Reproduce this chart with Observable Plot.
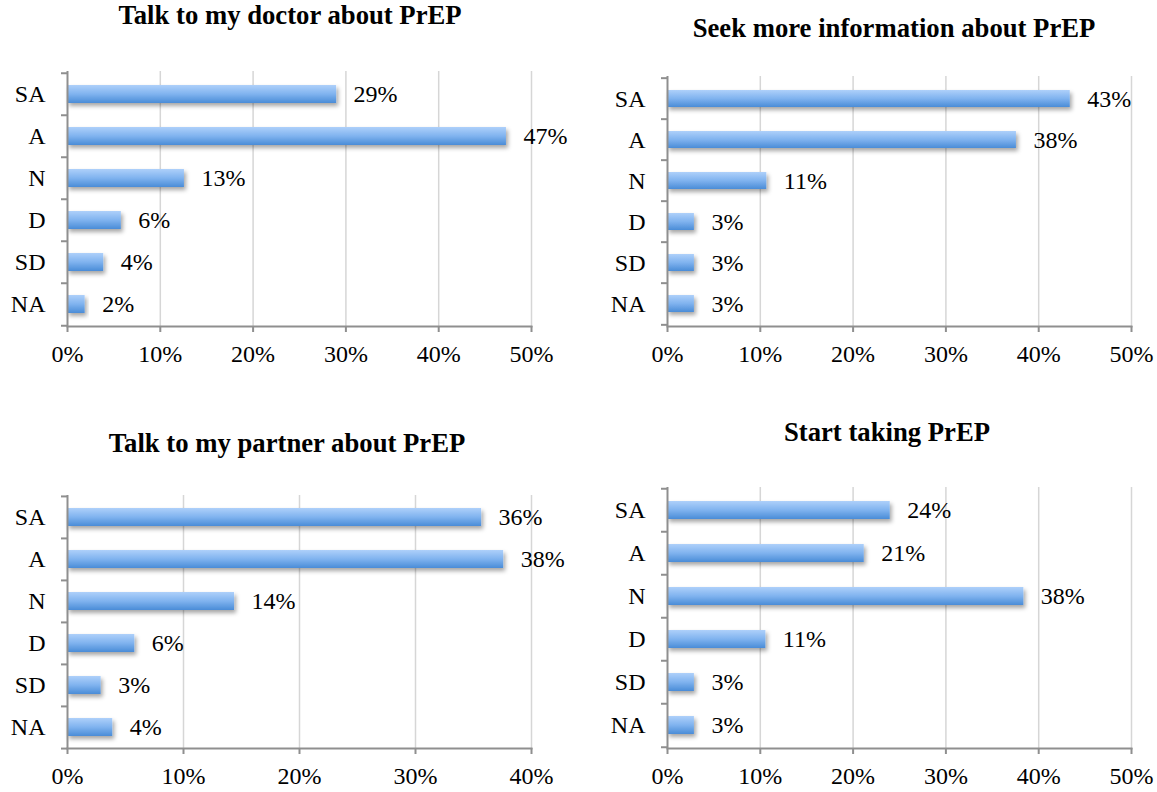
<!DOCTYPE html>
<html>
<head>
<meta charset="utf-8">
<script src="https://cdn.jsdelivr.net/npm/d3@7"></script>
<script src="https://cdn.jsdelivr.net/npm/@observablehq/plot@0.6"></script>
<style>
  html, body { margin: 0; padding: 0; background: #fff; }
  #page { position: relative; width: 1157px; height: 792px; overflow: hidden; font-family: "Liberation Serif", "Times New Roman", serif; }
  .panel { position: absolute; }
  .panel svg { overflow: visible; }
  .title { position: absolute; width: 600px; text-align: center; font-weight: bold; font-size: 26.7px; line-height: 26.7px; color: #000; white-space: nowrap; font-family: "Liberation Serif", "Times New Roman", serif; }
</style>
</head>
<body>
<div id="page"></div>
<script>
// ---- data ----
const categories = ["SA", "A", "N", "D", "SD", "NA"];
const doctorValues = [29.0, 47.3, 12.6, 5.8, 3.9, 1.9];
const infoValues = [43.4, 37.6, 10.7, 2.9, 2.9, 2.9];
const partnerValues = [35.7, 37.6, 14.4, 5.8, 2.9, 3.9];
const startValues = [24.0, 21.2, 38.4, 10.6, 2.9, 2.9];
const ticks50 = [0, 10, 20, 30, 40, 50];
const ticks40 = [0, 10, 20, 30, 40];
const titles = ["Talk to my doctor about PrEP", "Seek more information about PrEP", "Talk to my partner about PrEP", "Start taking PrEP"];

const page = document.getElementById("page");
const FONT = "'Liberation Serif', 'Times New Roman', serif";

// shared defs: gradient + shadow
const defs = document.createElementNS("http://www.w3.org/2000/svg", "svg");
defs.setAttribute("width", 0); defs.setAttribute("height", 0);
defs.style.position = "absolute";
defs.innerHTML = `
<defs>
  <linearGradient id="barGrad" x1="0" y1="0" x2="0" y2="1">
    <stop offset="0" stop-color="#aed0fa"/>
    <stop offset="0.5" stop-color="#80b3ef"/>
    <stop offset="1" stop-color="#4a8cd7"/>
  </linearGradient>
  <filter id="barShadow" x="-20%" y="-40%" width="140%" height="200%">
    <feDropShadow dx="2" dy="3" stdDeviation="2" flood-color="#000" flood-opacity="0.35"/>
  </filter>
</defs>`;
page.appendChild(defs);

function panel(cfg) {
  const data = categories.map((c, i) => ({cat: c, value: cfg.values[i]}));
  const xmax = cfg.ticks[cfg.ticks.length - 1];
  const plotW = cfg.width - cfg.marginLeft - cfg.marginRight;
  const plotH = cfg.height - cfg.marginTop - cfg.marginBottom;
  const step = plotH / categories.length;
  const tickLen = 6 * xmax / plotW;
  const axisColor = "#8f8f8f";
  const chart = Plot.plot({
    width: cfg.width, height: cfg.height,
    marginLeft: cfg.marginLeft, marginRight: cfg.marginRight,
    marginTop: cfg.marginTop, marginBottom: cfg.marginBottom,
    style: {fontFamily: FONT, fontSize: "24px", color: "#000", background: "transparent"},
    x: {domain: [0, xmax], axis: null},
    y: {domain: categories, paddingInner: 0.58, paddingOuter: 0.29, axis: null},
    marks: [
      Plot.gridX(cfg.ticks.filter(t => t > 0), {stroke: "#d6d6d6", strokeOpacity: 1, strokeWidth: 1.5}),
      Plot.barX(data, {x: "value", y: "cat", fill: "url(#barGrad)"}),
      Plot.text(data, {x: "value", y: "cat", text: d => Math.round(d.value) + "%", dx: 17, textAnchor: "start", fontSize: 24, fill: "#000"}),
      Plot.ruleX([0], {stroke: axisColor, strokeWidth: 2}),
      Plot.frame({anchor: "bottom", stroke: axisColor, strokeWidth: 2}),
      Plot.ruleY(categories, {y: d => d, x1: -tickLen, x2: 0, dy: -step / 2, stroke: axisColor, strokeWidth: 2}),
      Plot.ruleY([categories[categories.length - 1]], {y: d => d, x1: -tickLen, x2: 0, dy: step / 2, stroke: axisColor, strokeWidth: 2}),
      Plot.axisX({ticks: cfg.ticks, tickFormat: d => d + "%", tickSize: 6, tickPadding: 12, stroke: axisColor, strokeWidth: 2, fill: "#000", fontSize: 24, label: null}),
      Plot.axisY({tickSize: 0, tickPadding: 22, fill: "#000", fontSize: 24, label: null})
    ]
  });
  chart.querySelectorAll("g[aria-label='bar'] rect").forEach(r => r.setAttribute("filter", "url(#barShadow)"));
  const wrap = document.createElement("div");
  wrap.className = "panel";
  wrap.style.left = cfg.left + "px";
  wrap.style.top = cfg.top + "px";
  wrap.appendChild(chart);
  page.appendChild(wrap);

  const t = document.createElement("div");
  t.className = "title";
  t.textContent = cfg.title;
  t.style.left = (cfg.titleX - 300) + "px";
  t.style.top = (cfg.titleBaseline - 22.6) + "px";
  page.appendChild(t);
}

panel({title: titles[0], values: doctorValues, ticks: ticks50, left: 0, top: 60, width: 580, height: 311,
  marginLeft: 67, marginRight: 49, marginTop: 11, marginBottom: 45, titleX: 290, titleBaseline: 25});
panel({title: titles[1], values: infoValues, ticks: ticks50, left: 600, top: 60, width: 557, height: 311,
  marginLeft: 67, marginRight: 26, marginTop: 16, marginBottom: 45, titleX: 894, titleBaseline: 38});
panel({title: titles[2], values: partnerValues, ticks: ticks40, left: 0, top: 480, width: 580, height: 312,
  marginLeft: 67, marginRight: 49, marginTop: 15, marginBottom: 44, titleX: 287, titleBaseline: 453});
panel({title: titles[3], values: startValues, ticks: ticks50, left: 600, top: 480, width: 557, height: 312,
  marginLeft: 67, marginRight: 26, marginTop: 7, marginBottom: 44, titleX: 887, titleBaseline: 442});
</script>
</body>
</html>
